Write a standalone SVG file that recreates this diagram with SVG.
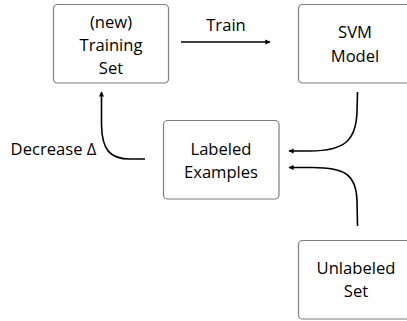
<svg xmlns="http://www.w3.org/2000/svg" width="407" height="321" viewBox="0 0 407 321">
<style>
.box{fill:#fff;stroke:#7f7f7f;stroke-width:1.2}
.t{font-family:"Open Sans","Liberation Sans",sans-serif;font-size:16.6px;fill:#000;text-anchor:middle}
.c{fill:none;stroke:#000;stroke-width:1.6}
</style>
<defs>
<marker id="ah" viewBox="0 0 10 10" refX="9" refY="5" markerWidth="3.2" markerHeight="3.2" orient="auto" markerUnits="strokeWidth">
<path d="M0,0 L10,5 L0,10 z" fill="#000"/>
</marker>
</defs>
<rect width="407" height="321" fill="#fff"/>
<g id="training-set">
<rect class="box" x="53.5" y="4.5" width="115" height="78.5" rx="4"/>
<text class="t" x="111" y="28">(new)</text>
<text class="t" x="111" y="51">Training</text>
<text class="t" x="111" y="74">Set</text>
</g>
<g id="svm-model">
<rect class="box" x="298.5" y="4.5" width="115" height="78.5" rx="4"/>
<text class="t" x="355" y="38">SVM</text>
<text class="t" x="355" y="62">Model</text>
</g>
<g id="labeled-examples">
<rect class="box" x="163.5" y="120.5" width="115.5" height="78.5" rx="4"/>
<text class="t" x="221" y="155">Labeled</text>
<text class="t" x="221" y="178">Examples</text>
</g>
<g id="unlabeled-set">
<rect class="box" x="298.5" y="240.5" width="115" height="78.5" rx="4"/>
<text class="t" x="356" y="274">Unlabeled</text>
<text class="t" x="356" y="297">Set</text>
</g>
<g id="connectors">
<path class="c" d="M181,42 L270,42" marker-end="url(#ah)"/>
<text class="t" x="226" y="31">Train</text>
<path class="c" d="M357.5,92 L357,112 C356,140 345,151 310,151 L289,151" marker-end="url(#ah)"/>
<path class="c" d="M357.5,226 L357,200 C356,176 347,167 310,167.5 L289,167.5" marker-end="url(#ah)"/>
<path class="c" d="M145,159 L130,159 C110,159 102,150 101.5,125 L101.5,92" marker-end="url(#ah)"/>
<text class="t" x="53.5" y="155">Decrease Δ</text>
</g>
</svg>
